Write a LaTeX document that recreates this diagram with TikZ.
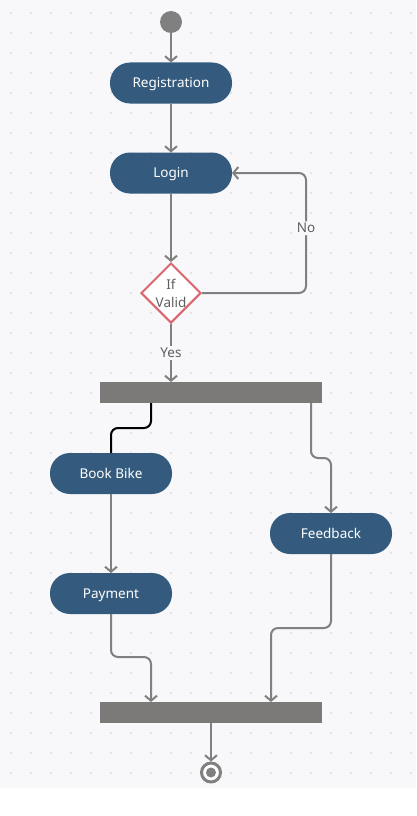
\documentclass[tikz,border=0pt]{standalone}
\usepackage{fontspec}
\setmainfont{Noto Sans}
\usetikzlibrary{positioning, shapes.geometric, arrows.meta}
\definecolor{actblue}{HTML}{345B7D}
\definecolor{linegray}{HTML}{808080}
\definecolor{bargray}{HTML}{7B7A79}
\definecolor{bgpaper}{HTML}{F8F8FB}
\definecolor{griddot}{HTML}{DCDCE2}
\definecolor{decred}{HTML}{D9666E}
\definecolor{lbltext}{HTML}{5F5F5F}

\begin{document}
\begin{tikzpicture}[x=1pt, y=-1pt, font=\fontsize{13.5}{16}\selectfont]
        \tikzset{activity/.style = {rectangle, rounded corners=20pt, fill=actblue, text=white, minimum width=122pt, minimum height=41pt, inner sep=0pt, outer sep=0pt, text height=9.6pt, text depth=0pt}}
        \tikzset{syncbar/.style = {rectangle, fill=bargray, minimum width=222pt, minimum height=21pt, inner sep=0pt, outer sep=0pt}}
        \tikzset{link/.style = {draw=linegray, line width=2pt, rounded corners=7pt, -{Straight Barb[length=5pt,width=12pt]}}}
        \tikzset{lbl/.style = {fill=bgpaper, text=lbltext, inner sep=2pt}}

        % background and dot grid
        \useasboundingbox (0,0) rectangle (416,816);
        \fill[bgpaper] (0,0) rectangle (416,788);
        \foreach \i in {0,...,20}
          \foreach \j in {0,...,38}
            \fill[griddot] (11+20*\i, 13+20*\j) circle (1.1);

        \node[circle, fill=linegray, minimum size=22pt, inner sep=0pt] (start) at (171,22) {};
        \node[activity] (reg) at (171,83) {Registration};
        \node[activity] (login) at (171,173) {Login};
        \node[diamond, draw=decred, line width=2pt, fill=white, minimum width=60pt, minimum height=60pt, inner sep=0pt, text=lbltext, align=center, font=\fontsize{13.5}{18}\selectfont] (valid) at (171,293) {If\\Valid};
        \node[syncbar] (fork) at (211,392.5) {};
        \node[activity] (book) at (111,473.5) {Book Bike};
        \node[activity] (feedback) at (331,533.5) {Feedback};
        \node[activity] (payment) at (111,593.5) {Payment};
        \node[syncbar] (join) at (211,712.5) {};
        \node[circle, draw=linegray, line width=3pt, fill=white, minimum size=19pt, inner sep=0pt] (final) at (211,772.5) {};
        \fill[linegray] (final.center) circle (5);

        \draw[link] (start) -- (reg);
        \draw[link] (reg) -- (login);
        \draw[link] (login) -- (valid);
        \draw[link] (valid.east) -- ++(104,0) |- node[lbl, pos=0.27]{No} (login.east);
        \draw[link] (valid.south) -- node[lbl]{Yes} (fork.north -| valid.south);

        \draw[line width=2pt, rounded corners=7pt, black] (fork.south west) ++(51,0) -- ++(0,25) -| (book.north);
        \draw[link] (fork.south east) ++(-11,0) -- ++(0,55) -| (feedback.north);
        \draw[link] (book) -- (payment);
        \draw[link] (payment.south) -- ++(0,43) -| ([xshift=51pt]join.north west);
        \draw[link] (feedback.south) -- ++(0,74) -| ([xshift=171pt]join.north west);
        \draw[link] (join) -- (final);
\end{tikzpicture}
\end{document}
